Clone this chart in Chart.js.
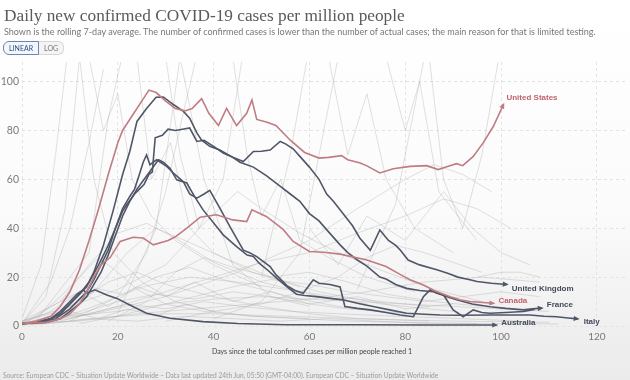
<!DOCTYPE html>
<html>
<head>
<meta charset="utf-8">
<script src="https://cdn.jsdelivr.net/npm/chart.js@4.4.0/dist/chart.umd.min.js"></script>
<style>
  html, body { margin: 0; padding: 0; }
  body {
    width: 630px; height: 380px; overflow: hidden; position: relative;
    background: linear-gradient(#ffffff 0%, #fbfbfb 55%, #efefef 88%, #ebebeb 100%);
    font-family: Lato, "Open Sans", sans-serif;
  }
  .title { position: absolute; left: 4px; top: 6px; font-family: "Liberation Serif", serif; font-size: 17.3px; color: #5a5a5a; white-space: nowrap; }
  .subtitle { position: absolute; left: 4px; top: 26px; font-size: 9px; color: #777; white-space: nowrap; }
  .toggle { position: absolute; left: 3px; top: 41px; display: flex; font-size: 7px; }
  .toggle span { display: block; padding: 2px 5px; line-height: 8px; }
  .toggle .on { border: 1px solid #6d87b4; border-radius: 6px 0 0 6px; color: #2f4f85; background: #f3f6fb; }
  .toggle .off { border: 1px solid #d6d6d6; border-left: none; border-radius: 0 6px 6px 0; color: #777; background: #f4f4f4; }
  .chart-box { position: absolute; left: 0; top: 0; width: 630px; height: 366px; }
  .x-title { position: absolute; left: 312px; top: 347px; transform: translateX(-50%); font-size: 7px; color: #444; white-space: nowrap; }
  .source { position: absolute; left: 3px; top: 371px; font-size: 6.6px; color: #9a9a9a; white-space: nowrap; }
</style>
</head>
<body>
<div class="chart-box"><canvas id="covidChart"></canvas></div>
<div class="title">Daily new confirmed COVID-19 cases per million people</div>
<div class="subtitle">Shown is the rolling 7-day average. The number of confirmed cases is lower than the number of actual cases; the main reason for that is limited testing.</div>
<div class="toggle"><span class="on">LINEAR</span><span class="off">LOG</span></div>
<div class="x-title">Days since the total confirmed cases per million people reached 1</div>
<div class="source">Source: European CDC – Situation Update Worldwide – Data last updated 24th Jun, 05:50 (GMT-04:00). European CDC – Situation Update Worldwide</div>
<script>
// tick labels
const xTicks = [0, 20, 40, 60, 80, 100, 120];
const yTicks = [0, 20, 40, 60, 80, 100];

// highlighted countries: [day, cases per million]
const unitedStates = [[0,1],[3,2],[6,4],[8,8],[10,14],[12,23],[14,35],[16,48],[18,62],[20,75],[21,80],[23,86],[25,92],[26.5,96.5],[28,95.5],[30,92],[32,89],[34,88],[35.5,89],[37.5,93],[39,87],[41,82],[42.7,89],[44.8,82],[46.9,87],[48,92.5],[49,84.5],[51,83.5],[53,82],[56,76],[59,71],[62,68.7],[64,69],[66.7,69.7],[68,68],[70.6,66.7],[72,65.5],[74.7,62.6],[77.5,64.3],[81,65.3],[84.5,65.6],[86.9,64],[88.5,65],[90.7,66.4],[92,65.6],[94.2,69.4],[96.3,75],[98.4,81.7],[100.5,90.6]];
const canada = [[0,1],[5,1.5],[8,3],[10,5],[12,9],[13.5,14],[15,20],[16.5,25],[18.4,28],[20.5,34.6],[23.2,36.3],[25.3,36],[27.4,33.2],[30.5,35],[32,36.5],[34.4,40],[37.2,44.5],[40.6,45.5],[44,43.4],[46.9,42.7],[48,47.5],[51,44.8],[54.5,39.5],[56.6,34.6],[60,30.5],[63,30.2],[66.4,29.4],[72,27],[76,24.3],[79,21],[81,18.9],[83.8,16.8],[86,14.5],[89.4,12],[91.4,10.7],[93.5,10],[98.4,9.3]];
const unitedKingdom = [[0,1],[3,1.5],[6,3],[8,5],[10,9],[12,13],[14,18],[16,25],[18,33],[19.5,40],[21,47],[22,50],[23.5,54],[24.5,56],[25.5,58],[26.5,62],[27.2,63],[27.8,77],[29.3,78],[30.5,80.5],[32,80],[33.5,80.5],[35,81],[36.5,75.5],[38,76],[40,73.5],[42,70.8],[44,69],[46.2,67.3],[48.3,71.4],[50,71.5],[51.8,72],[53.9,75.5],[55,74.5],[56.6,72.5],[58,69.4],[60,65],[62,60],[63.6,54],[65,51],[67,46],[69,41],[70.5,36],[72.7,31],[74.7,39.3],[76.5,35],[78,33],[79,31],[80.6,27],[83,25],[86.6,23],[89,21.5],[91,20],[93.5,18.9],[95,18.2],[98,17.5],[101.2,17]];
const france = [[0,1],[3,1.5],[6,3],[8,5],[10,9],[12,13],[13.5,16],[15,22],[17,33],[19,47],[21,62],[22.5,71.4],[24,83.7],[26,89],[28,93.6],[29.5,93.7],[31.6,90.6],[33.7,87.8],[35,85],[36.5,79],[37.5,76],[39.2,73.5],[41.3,72],[44,69],[45.5,67],[48.3,65],[51,61.5],[54,57],[56,54],[58,51],[60,46],[62,43],[64,38.5],[66.4,33.2],[68,30],[70,27],[72,24.5],[74.7,20],[76,19.2],[78,17],[80.3,15.4],[83,14.5],[85.9,14],[88,12.5],[90.7,10.7],[94,9],[97.7,7.9],[101,7.2],[104.7,6.6],[106.5,7],[108.5,7.3]];
const otherCountry = [[0,1],[4,1.5],[7,3],[10,7],[12,11],[13.5,14],[15,19],[16.5,25],[18,31],[19.5,40],[21,48],[22.5,53],[23.5,56],[24.5,62],[25.3,67],[26,70],[26.7,66],[28.1,68],[30.2,65.3],[31.6,62.6],[33.7,59],[35,54],[36.5,52.3],[38,54],[39.2,55.5],[41.3,48.2],[43.4,40.7],[46.2,31],[47.5,30],[49,28.4],[51.8,24.3],[53,21],[55.3,16.5],[57,14.5],[58.7,13.4],[60.8,18.9],[62,17.5],[64.3,17],[66.4,16],[67.4,8],[70,7.2],[72.7,6.6],[76,5.5],[79,4.5],[81.7,3.8],[83.8,12],[85.2,14.8],[86.5,13.5],[88,12.7],[90,6.6],[92.1,3.8],[94.2,6.6],[96,5.5],[97.7,5.2],[101,5.5],[104.7,5.9],[107,6.8]];
const italy = [[0,1],[5,1.5],[8,3],[10,6],[12,9],[13.5,12],[15,17],[16.5,22],[18,29],[19.5,37],[21,45],[22.5,51],[24,56],[25.5,60],[27,64],[28.5,68],[29.5,67],[30.9,64.5],[32.3,59.8],[34.4,58.5],[36,53],[37.8,47.5],[40.6,40.7],[42,37.3],[44.8,32.5],[47,29],[48.3,28.4],[49.5,25.7],[51.5,22.5],[53.2,19.5],[55,16.5],[57.3,13],[59,12.5],[61.5,12],[64.3,11.3],[67,10.7],[70,9.3],[73.3,8],[77,6.5],[80.3,5.2],[84,4.8],[87.3,4.5],[92,4.4],[97.7,4.5],[102,4.5],[106,4.5],[109,4],[111.6,3.8],[114,3.3],[116,2.9]];
const australia = [[0,0.8],[3,1.5],[6,3],[8,6],[10,10],[11.5,13],[12.8,14.8],[13.5,13.4],[15.2,14.8],[17.7,12.7],[19.8,11.3],[22.5,8.6],[26,5.2],[30.9,3.2],[37.8,1.8],[45,1],[55,0.5],[70,0.5],[85,0.4],[99,0.4]];

// faint background countries (rough estimates)
const background = [
  [[0,1],[6,4],[12,10],[18,18],[24,22],[30,17],[40,12],[50,8],[60,5],[70,3],[85,2]],
  [[0,2],[8,6],[15,14],[22,30],[28,40],[34,35],[42,28],[52,20],[62,14],[75,9],[90,6]],
  [[0,1],[5,12],[9,48],[12,110],[15,60],[19,30],[25,18],[32,10],[40,6]],
  [[0,1],[10,3],[20,8],[30,14],[40,20],[50,26],[60,30],[70,38],[80,45],[88,52],[95,48],[102,40]],
  [[0,1],[15,5],[30,12],[45,22],[60,35],[70,48],[80,60],[86,66],[92,62],[98,55]],
  [[0,3],[4,25],[7,70],[10,120]],
  [[2,0],[14,30],[18,85],[22,120]],
  [[20,5],[28,40],[33,110],[38,60],[44,25],[52,12],[60,8]],
  [[0,2],[10,8],[20,15],[30,25],[38,42],[45,55],[50,48],[58,38],[66,30],[76,22],[86,15],[96,10]],
  [[0,1],[10,4],[20,6],[30,9],[40,11],[50,12],[60,11],[70,10],[80,9],[90,8],[100,7],[110,6]],
  [[0,0.5],[10,2],[20,4],[30,5],[40,5],[55,4],[70,3],[90,2],[110,1.5]],
  [[5,1],[15,8],[25,16],[35,20],[45,18],[55,15],[65,12],[75,10],[85,8]],
  [[40,3],[50,10],[58,30],[63,80],[67,120]],
  [[50,20],[56,70],[60,115]],
  [[70,15],[78,50],[84,110]],
  [[60,40],[66,25],[72,45],[80,35],[88,55],[94,40],[100,30],[106,25]],
  [[0,1],[8,10],[14,25],[20,38],[26,42],[32,36],[40,26],[50,18],[60,13],[72,9]],
  [[0,1],[12,2],[24,5],[36,7],[48,9],[60,11],[72,14],[84,18],[96,20],[108,18]],
  [[85,110],[88,60],[92,40],[96,70],[100,115]],
  [[0,1],[6,18],[10,40],[14,75],[17,105]],
  [[30,110],[33,70],[37,40],[42,60],[46,110]],
  [[95,20],[100,22],[104,22],[108,20]],
  [[0,1],[6,6],[12,14],[18,8],[24,16],[30,12],[36,18],[44,10],[52,14],[60,9],[70,12],[80,7],[90,9]],
  [[10,2],[20,12],[26,30],[30,55],[34,90],[37,115]],
  [[24,110],[27,60],[31,75],[35,40],[40,30],[48,22],[58,16]],
  [[64,110],[68,70],[72,95],[76,60],[82,40],[90,30]],
  [[0,0.5],[8,2],[16,6],[22,9],[30,7],[38,10],[46,8],[56,6],[66,5],[78,4],[92,3],[104,2]],
  [[0,1],[5,3],[12,5],[20,10],[28,13],[36,11],[44,14],[52,12],[60,9],[68,7],[76,6]],
  [[3,1],[10,6],[16,3],[22,7],[28,4],[34,9],[40,6],[48,4],[58,3],[68,2],[80,1.5],[95,1]],
  [[0,2],[7,9],[14,16],[21,13],[28,20],[35,24],[42,19],[50,15],[58,11],[66,8],[74,6],[82,5]],
  [[12,1],[20,4],[28,8],[36,12],[44,16],[52,19],[60,17],[68,14],[76,12],[84,10],[92,12],[100,14],[108,12]],
  [[0,0.5],[6,1],[14,3],[24,2],[34,4],[44,3],[54,2],[64,3],[74,2],[84,1],[96,1],[112,0.8]],
  [[18,2],[26,10],[32,22],[38,28],[44,24],[52,20],[60,22],[68,18],[76,13],[86,10],[96,8]],
  [[0,1],[4,5],[8,12],[12,20],[16,28],[20,22],[24,15],[30,9],[38,6],[48,4],[60,3]],
  [[30,2],[40,6],[50,9],[58,14],[66,20],[72,28],[78,33],[84,30],[90,26],[96,22]],
  [[44,110],[47,70],[50,45],[54,60],[58,35],[64,28],[72,20],[82,14]],
  [[76,110],[80,80],[83,100],[87,55],[91,45],[95,35]],
  [[14,110],[17,80],[20,95],[23,60],[27,45],[32,35],[40,25],[50,16]]
];

const RED = '#bf7c82';
const DARK = '#4f5667';
const labelOffsets = {
  'United States': [3, -7],
  'United Kingdom': [5, 4],
  'Canada': [5, -2],
  'France': [5, -3],
  'Australia': [5, -2],
  'Italy': [6, 3]
};

function mainSet(label, points, color, endLabel) {
  return {
    label: label,
    data: points.map(p => ({ x: p[0], y: p[1] })),
    borderColor: color,
    borderWidth: 1.6,
    endLabel: endLabel,
    order: 0
  };
}

const datasets = [
  mainSet('United States', unitedStates, RED, 'United States'),
  mainSet('Canada', canada, RED, 'Canada'),
  mainSet('United Kingdom', unitedKingdom, DARK, 'United Kingdom'),
  mainSet('France', france, DARK, 'France'),
  mainSet('Other', otherCountry, DARK, null),
  mainSet('Italy', italy, DARK, 'Italy'),
  mainSet('Australia', australia, DARK, 'Australia')
];
background.forEach((pts, i) => {
  datasets.push({
    label: 'bg' + i,
    data: pts.map(p => ({ x: p[0], y: p[1] })),
    borderColor: 'rgba(165,165,165,0.42)',
    borderWidth: 0.8,
    order: 1
  });
});

// arrowheads + country labels at line ends
const endLabels = {
  id: 'endLabels',
  afterDatasetsDraw(chart) {
    const ctx = chart.ctx;
    chart.data.datasets.forEach((ds, i) => {
      if (!ds.endLabel) return;
      const pts = chart.getDatasetMeta(i).data;
      const p = pts[pts.length - 1];
      const q = pts[pts.length - 2];
      const ang = Math.atan2(p.y - q.y, p.x - q.x);
      ctx.save();
      ctx.translate(p.x, p.y);
      ctx.rotate(ang);
      ctx.beginPath();
      ctx.moveTo(2, 0);
      ctx.lineTo(-4, -2.6);
      ctx.lineTo(-4, 2.6);
      ctx.closePath();
      ctx.fillStyle = ds.borderColor;
      ctx.fill();
      ctx.restore();

      const off = labelOffsets[ds.endLabel];
      ctx.save();
      ctx.font = 'bold 8px "Liberation Sans", Arial, sans-serif';
      ctx.fillStyle = ds.borderColor === RED ? '#c0646c' : '#434a59';
      ctx.textBaseline = 'middle';
      ctx.fillText(ds.endLabel, p.x + off[0], p.y + off[1]);
      ctx.restore();
    });
  }
};

const ctx = document.getElementById('covidChart').getContext('2d');
new Chart(ctx, {
  type: 'line',
  data: { datasets: datasets },
  plugins: [endLabels],
  options: {
    animation: false,
    responsive: true,
    maintainAspectRatio: false,
    layout: { padding: { top: 62, right: 2, left: 0, bottom: 0 } },
    elements: { point: { radius: 0 }, line: { tension: 0 } },
    plugins: { legend: { display: false }, tooltip: { enabled: false } },
    scales: {
      x: {
        type: 'linear',
        min: 0,
        max: 126.5,
        afterBuildTicks: scale => { scale.ticks = xTicks.map(v => ({ value: v })); },
        afterFit: scale => { scale.height = 40; },
        ticks: { color: '#7a7a7a', padding: 5, maxRotation: 0, font: { family: 'Lato', size: 10 } },
        grid: { color: '#e3e3e3', drawTicks: false },
        border: { display: false, dash: [3, 3] }
      },
      y: {
        min: 0,
        max: 108,
        afterBuildTicks: scale => { scale.ticks = yTicks.map(v => ({ value: v })); },
        afterFit: scale => { scale.width = 22; },
        ticks: { color: '#7a7a7a', padding: 3, font: { family: 'Lato', size: 10.5 } },
        grid: { color: '#e3e3e3', drawTicks: false },
        border: { display: false, dash: [3, 3] }
      }
    }
  }
});
</script>
</body>
</html>
